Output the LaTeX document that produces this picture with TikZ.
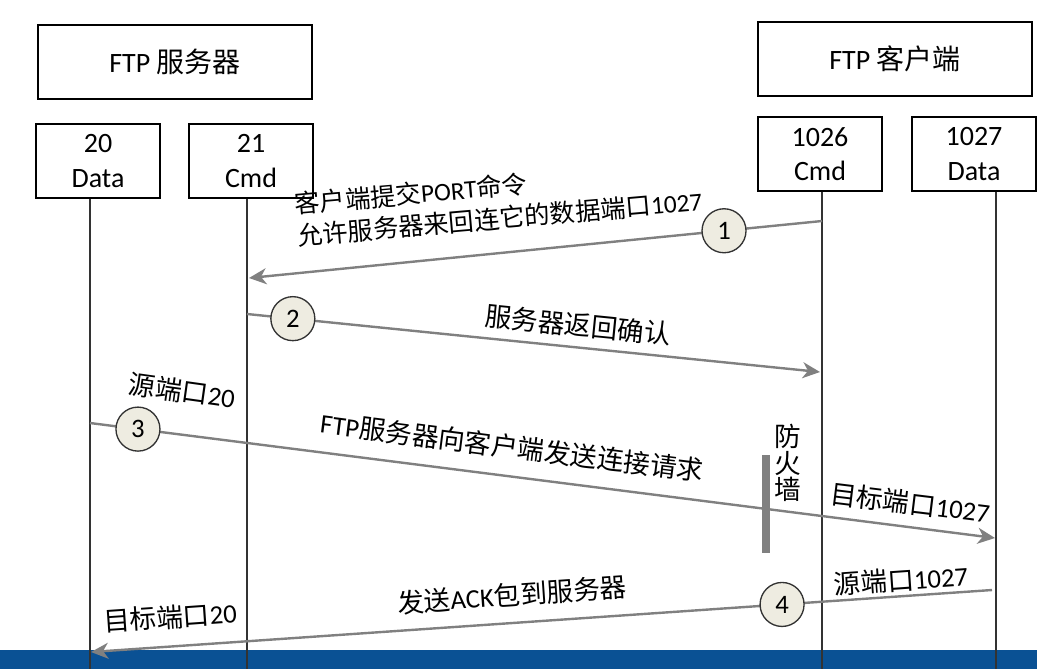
\documentclass[tikz,border=0pt]{standalone}
\usepackage{fontspec}
\setmainfont{Carlito}
\newfontfamily\cjk{Noto Sans CJK SC}
\usepackage{tikz}
\usetikzlibrary{positioning, arrows.meta}
\definecolor{msggray}{RGB}{128,128,128}
\definecolor{linegray}{RGB}{51,51,51}
\definecolor{circfill}{RGB}{238,236,225}
\definecolor{barblue}{RGB}{10,81,148}

\begin{document}
\begin{tikzpicture}[x=0.75pt, y=-0.75pt,
    host/.style = {draw, line width=1.6pt, minimum width=205pt, minimum height=55pt, font=\fontsize{21}{25}\selectfont},
    port/.style = {draw, line width=1.6pt, minimum width=93pt, minimum height=55pt, align=center, font=\fontsize{21}{26}\selectfont},
    life/.style = {draw=linegray, line width=1.1pt},
    msg/.style = {draw=msggray, line width=1.8pt, -{Stealth[length=13pt, width=12pt, inset=4pt]}},
    num/.style = {draw=linegray, circle, fill=circfill, line width=1pt, minimum size=33pt, inner sep=0pt, font=\fontsize{20}{24}\selectfont},
    lbl/.style = {inner sep=0pt, font=\fontsize{20}{22}\selectfont}]
                \useasboundingbox (0,0) rectangle (1037,669);
                \fill[barblue] (0,650) rectangle (1037,669);

                % Nodes
                \node[host] (server) at (175,62) {FTP {\cjk 服务器}};
                \node[host] (client) at (895,59) {FTP {\cjk 客户端}};
                \node[port] (d20) at (98,161) {20\\Data};
                \node[port] (c21) at (251,161) {21\\Cmd};
                \node[port] (c1026) at (820,154) {1026\\Cmd};
                \node[port] (d1027) at (974,154) {1027\\Data};

                % Lifelines
                \coordinate (l20) at (90,669);
                \coordinate (l21) at (247,669);
                \coordinate (l1026) at (822,669);
                \coordinate (l1027) at (996,669);
                \draw[life] (d20.south -| l20) -- (l20);
                \draw[life] (c21.south -| l21) -- (l21);
                \draw[life] (c1026.south -| l1026) -- (l1026);
                \draw[life] (d1027.south -| l1027) -- (l1027);

                % Firewall
                \coordinate (fwtop) at (766,455);
                \coordinate (fwbot) at (766,553);
                \draw[msggray, line width=5.5pt] (fwtop) -- (fwbot);
                \node[lbl, align=center, font=\cjk\fontsize{20}{20}\selectfont] (fw) at (788,463) {防\\火\\墙};

                % Lines
                % \draw[msg] (from) -- node[num] {n} (to);
                \coordinate (m1s) at (822,221);
                \coordinate (m1e) at (249,278);
                \coordinate (m2s) at (247,314);
                \coordinate (m2e) at (820,372);
                \coordinate (m3s) at (90,423);
                \coordinate (m3e) at (995,538);
                \coordinate (m4s) at (992,590);
                \coordinate (m4e) at (91,652);
                \draw[msg] (m1s) -- node[num, pos=.171] (n1) {1} (m1e);
                \draw[msg] (m2s) -- node[num, pos=.080] (n2) {2} (m2e);
                \draw[msg] (m3s) -- node[num, pos=.053] (n3) {3} (m3e);
                \draw[msg] (m4s) -- node[num, pos=.233] (n4) {4} (m4e);

                % Labels
                \node[lbl, anchor=west, rotate=5, align=left, font=\fontsize{19}{24}\selectfont] (t1) at (296,220) {{\cjk 客户端提交}PORT{\cjk 命令}\\{\cjk 允许服务器来回连它的数据端口}1027};
                \node[lbl, rotate=-5.7] (t2) at (578,325) {\cjk 服务器返回确认};
                \node[lbl, rotate=-8] (t3a) at (182,391) {{\cjk 源端口}20};
                \node[lbl, rotate=-7.2] (t3) at (512,447) {FTP{\cjk 服务器向客户端发送连接请求}};
                \node[lbl, rotate=-7] (t3b) at (910,503) {{\cjk 目标端口}1027};
                \node[lbl, rotate=4] (t4a) at (901,580) {{\cjk 源端口}1027};
                \node[lbl, rotate=4] (t4) at (512,595) {{\cjk 发送}ACK{\cjk 包到服务器}};
                \node[lbl, rotate=4] (t4b) at (170,617) {{\cjk 目标端口}20};

            \end{tikzpicture}
\end{document}
